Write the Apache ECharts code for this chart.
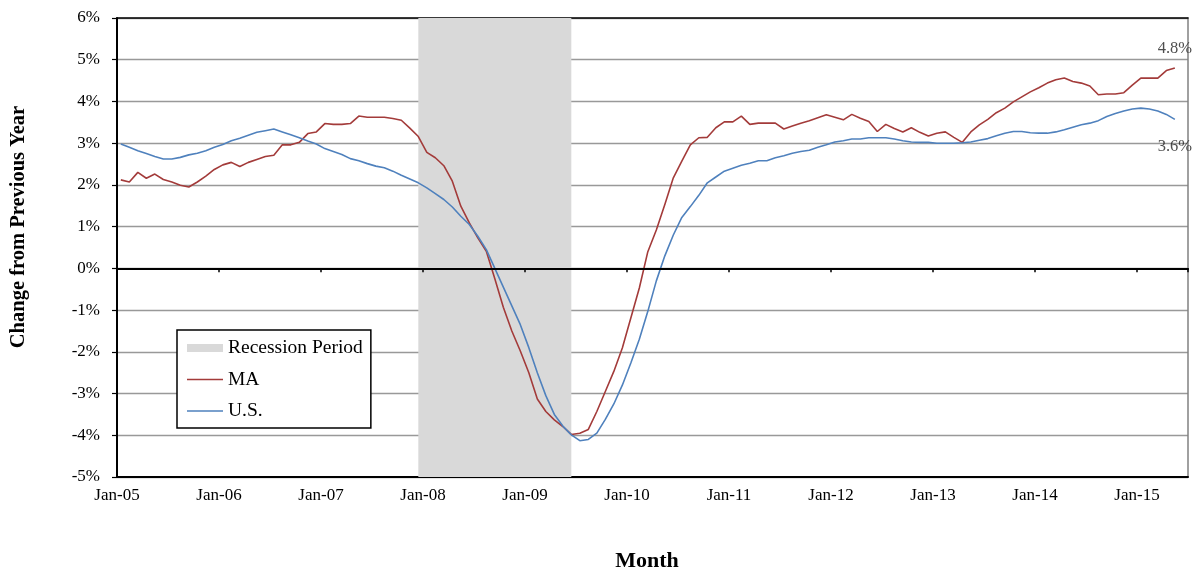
<!DOCTYPE html>
<html>
<head>
<meta charset="utf-8">
<script src="https://cdn.jsdelivr.net/npm/echarts@6/dist/echarts.min.js"></script>
<style>
  html, body { margin: 0; padding: 0; background: #fff; }
  #chart { width: 1196px; height: 572px; }
</style>
</head>
<body>
<div id="chart"></div>
<script>
// ---- data ----
const monthNames = ['Jan','Feb','Mar','Apr','May','Jun','Jul','Aug','Sep','Oct','Nov','Dec'];
const years = ['05','06','07','08','09','10','11','12','13','14','15'];
const tickLabels = ['Jan-05','Jan-06','Jan-07','Jan-08','Jan-09','Jan-10','Jan-11','Jan-12','Jan-13','Jan-14','Jan-15'];

const maValues = [
  2.12, 2.07, 2.30, 2.16, 2.26, 2.13, 2.07, 1.99, 1.95, 2.07, 2.21, 2.37,
  2.48, 2.54, 2.44, 2.54, 2.61, 2.68, 2.71, 2.96, 2.96, 3.02, 3.23, 3.27,
  3.47, 3.45, 3.45, 3.47, 3.65, 3.62, 3.62, 3.62, 3.59, 3.55, 3.36, 3.16,
  2.78, 2.65, 2.46, 2.09, 1.49, 1.09, 0.73, 0.41, -0.25, -0.93, -1.50, -1.98,
  -2.50, -3.13, -3.43, -3.63, -3.79, -3.98, -3.95, -3.86, -3.43, -2.95, -2.47, -1.91,
  -1.19, -0.47, 0.40, 0.92, 1.53, 2.17, 2.57, 2.96, 3.13, 3.14, 3.37, 3.51,
  3.51, 3.65, 3.45, 3.48, 3.48, 3.48, 3.34, 3.41, 3.48, 3.54, 3.61, 3.68,
  3.62, 3.56, 3.69, 3.60, 3.52, 3.28, 3.45, 3.35, 3.27, 3.37, 3.26, 3.17,
  3.24, 3.27, 3.14, 3.02, 3.27, 3.44, 3.57, 3.73, 3.84, 3.99, 4.11, 4.23,
  4.33, 4.44, 4.52, 4.56, 4.48, 4.44, 4.37, 4.16, 4.18, 4.18, 4.21, 4.39,
  4.56, 4.56, 4.56, 4.74, 4.80
];

const usValues = [
  2.98, 2.90, 2.82, 2.75, 2.68, 2.62, 2.62, 2.66, 2.72, 2.76, 2.82, 2.90,
  2.97, 3.06, 3.12, 3.19, 3.26, 3.30, 3.34, 3.27, 3.20, 3.13, 3.05, 2.98,
  2.87, 2.80, 2.73, 2.63, 2.58, 2.51, 2.45, 2.41, 2.33, 2.23, 2.14, 2.05,
  1.93, 1.79, 1.65, 1.47, 1.25, 1.05, 0.77, 0.45, 0.00, -0.45, -0.90, -1.35,
  -1.90, -2.50, -3.05, -3.50, -3.78, -3.99, -4.13, -4.10, -3.95, -3.62, -3.25, -2.80,
  -2.27, -1.70, -1.03, -0.30, 0.30, 0.80, 1.22, 1.48, 1.75, 2.05, 2.19, 2.33,
  2.40, 2.47, 2.52, 2.58, 2.58, 2.65, 2.70, 2.76, 2.80, 2.83, 2.90, 2.96,
  3.03, 3.06, 3.10, 3.10, 3.13, 3.13, 3.13, 3.10, 3.06, 3.03, 3.02, 3.02,
  3.00, 3.00, 3.00, 3.01, 3.03, 3.07, 3.11, 3.18, 3.24, 3.28, 3.28, 3.25,
  3.24, 3.24, 3.27, 3.32, 3.38, 3.44, 3.48, 3.54, 3.64, 3.71, 3.77, 3.82,
  3.84, 3.82, 3.77, 3.69, 3.57
];

// month categories (Jan-05 .. May-15)
const months = [];
for (let i = 0; i < maValues.length; i++) {
  months.push(monthNames[i % 12] + '-' + years[Math.floor(i / 12)]);
}
const recessionStart = 'Dec-07';
const recessionEnd = 'Jun-09';

// ---- layout / style ----
const FONT = 'Liberation Serif, Times New Roman, serif';
const AXIS_MAX = 126;      // right edge of the plot, in months from Jan-05
const POS = 0.45;          // mid-month placement of each monthly observation
// thin horizontal line icon for the legend (box 36x8, stroke ~1.6px)
const LINE_ICON = 'path://M0,0L0.01,0M0,3.2L36,3.2L36,4.8L0,4.8ZM35.99,8L36,8';

const toPts = (vals) => vals.map((v, i) => [i + POS, v]);
const lastPt = (vals) => [[vals.length - 1 + POS, vals[vals.length - 1]]];

const chart = echarts.init(document.getElementById('chart'), null, { renderer: 'canvas' });

const endLabel = (pos, dist) => ({
  show: true, position: pos, distance: dist,
  formatter: (p) => p.value[1].toFixed(1) + '%',
  fontFamily: FONT, fontSize: 16.5, color: '#222'
});

const option = {
  animation: false,
  backgroundColor: '#fff',
  grid: { left: 117, right: 8, top: 18, bottom: 95, containLabel: false },
  legend: {
    orient: 'vertical', left: 177, top: 330,
    padding: [8, 8, 7, 10], itemGap: 11.5, itemWidth: 36, itemHeight: 8,
    backgroundColor: '#fff', borderColor: '#000', borderWidth: 1.5, borderRadius: 0,
    textStyle: { fontFamily: FONT, fontSize: 19.5, color: '#000', lineHeight: 20 },
    data: [
      { name: 'Recession Period', icon: 'rect' },
      { name: 'MA', icon: LINE_ICON },
      { name: 'U.S.', icon: LINE_ICON }
    ]
  },
  xAxis: [
    { // bottom axis with labels
      type: 'value', min: 0, max: AXIS_MAX, interval: 12, position: 'bottom',
      axisLine: { show: true, onZero: false, lineStyle: { color: '#000', width: 2 } },
      axisTick: { show: false },
      splitLine: { show: false },
      axisLabel: {
        margin: 10, fontFamily: FONT, fontSize: 17, color: '#000',
        showMaxLabel: false,
        formatter: (v) => (v % 12 === 0 && v / 12 < tickLabels.length) ? tickLabels[v / 12] : ''
      }
    },
    { // axis line on zero with tick marks
      type: 'value', min: 0, max: AXIS_MAX, interval: 12, position: 'bottom', z: 10,
      axisLine: { show: true, onZero: true, lineStyle: { color: '#000', width: 2 } },
      axisTick: { show: true, length: 4, lineStyle: { color: '#000', width: 1.5 } },
      axisLabel: { show: false },
      splitLine: { show: false }
    },
    { // top border
      type: 'value', min: 0, max: AXIS_MAX, position: 'top',
      axisLine: { show: true, onZero: false, lineStyle: { color: '#000', width: 1.5 } },
      axisTick: { show: false }, axisLabel: { show: false }, splitLine: { show: false }
    }
  ],
  yAxis: [
    {
      type: 'value', min: -5, max: 6, interval: 1, position: 'left',
      axisLine: { show: true, onZero: false, lineStyle: { color: '#000', width: 2 } },
      axisTick: { show: true, length: 5, lineStyle: { color: '#000', width: 1.2 } },
      axisLabel: { formatter: '{value}%', margin: 17, fontFamily: FONT, fontSize: 17, color: '#000' },
      splitLine: { show: true, lineStyle: { color: '#999', width: 1.4 } }
    },
    {
      type: 'value', min: -5, max: 6, interval: 1, position: 'right',
      axisLine: { show: true, onZero: false, lineStyle: { color: '#808080', width: 1.5 } },
      axisTick: { show: false }, axisLabel: { show: false }, splitLine: { show: false }
    }
  ],
  graphic: [
    {
      type: 'text', x: 19, y: 227, rotation: Math.PI / 2,
      style: {
        text: 'Change from Previous Year', fill: '#000',
        font: 'bold 20.5px ' + FONT, textAlign: 'center', textVerticalAlign: 'middle'
      }
    },
    {
      type: 'text', x: 647, y: 561,
      style: {
        text: 'Month', fill: '#000',
        font: 'bold 22px ' + FONT, textAlign: 'center', textVerticalAlign: 'middle'
      }
    }
  ],
  series: [
    {
      name: 'Recession Period', type: 'line', xAxisIndex: 0, yAxisIndex: 0,
      data: [], symbol: 'none',
      itemStyle: { color: '#D9D9D9' }, lineStyle: { color: '#D9D9D9' },
      z: 2,
      markArea: {
        silent: true,
        itemStyle: { color: '#D9D9D9', opacity: 1 },
        data: [[
          { xAxis: months.indexOf(recessionStart) + POS },
          { xAxis: months.indexOf(recessionEnd) + POS }
        ]]
      }
    },
    {
      name: 'MA', type: 'line', xAxisIndex: 0, yAxisIndex: 0,
      data: toPts(maValues),
      symbol: 'none', z: 3,
      itemStyle: { color: '#A33B3A' },
      lineStyle: { color: '#A33B3A', width: 1.6 }
    },
    {
      name: 'U.S.', type: 'line', xAxisIndex: 0, yAxisIndex: 0,
      data: toPts(usValues),
      symbol: 'none', z: 3,
      itemStyle: { color: '#4F81BD' },
      lineStyle: { color: '#4F81BD', width: 1.6 }
    },
    {
      name: 'MA latest', type: 'scatter', xAxisIndex: 0, yAxisIndex: 0,
      data: lastPt(maValues), symbolSize: 0, silent: true, z: 4,
      itemStyle: { color: '#A33B3A' },
      label: endLabel('top', 11)
    },
    {
      name: 'U.S. latest', type: 'scatter', xAxisIndex: 0, yAxisIndex: 0,
      data: lastPt(usValues), symbolSize: 0, silent: true, z: 4,
      itemStyle: { color: '#4F81BD' },
      label: endLabel('bottom', 19)
    }
  ]
};
chart.setOption(option);
</script>
</body>
</html>
